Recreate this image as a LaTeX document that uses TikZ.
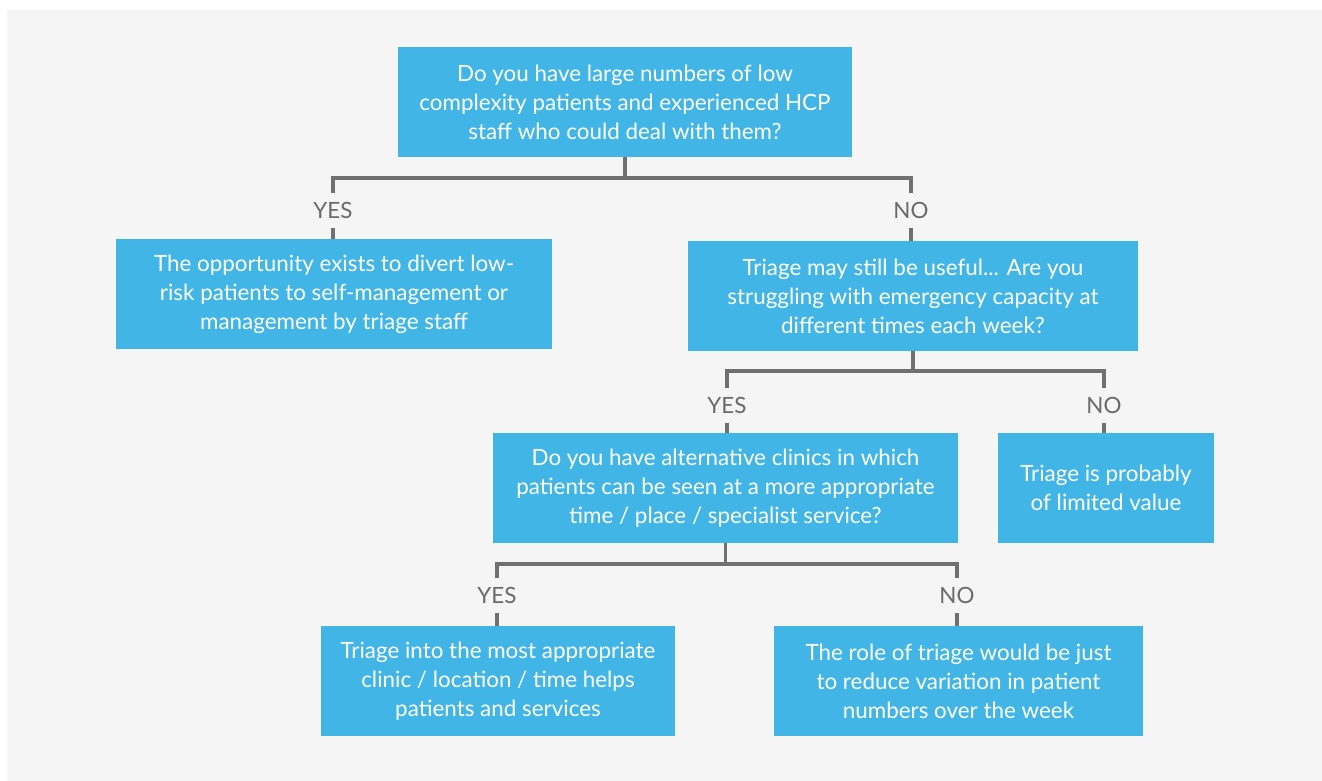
\documentclass[tikz,border=0pt]{standalone}
\usepackage{fontspec}
\setmainfont{Lato}
\definecolor{bgc}{HTML}{F5F5F5}
\definecolor{boxc}{HTML}{41B6E6}
\definecolor{linec}{HTML}{707070}
\definecolor{lblc}{HTML}{6A6A6A}
\tikzset{
  box/.style={fill=boxc, text=white, align=center, inner sep=0pt,
    minimum height=82.5pt, font=\fontsize{16.8}{21.75}\selectfont},
  lbl/.style={text=lblc, inner sep=0pt, minimum height=26.25pt,
    font=\fontsize{16.8}{19}\selectfont},
  conn/.style={draw=linec, line width=2.3pt}
}
\begin{document}
\begin{tikzpicture}[x=0.75pt,y=-0.75pt]
\path[use as bounding box] (0,0) rectangle (1322,781);
\fill[white] (0,0) rectangle (1322,781);
\fill[bgc] (7,10) rectangle (1322,781);

\node[box, minimum width=340.5pt] (b1) at (625,102) {\rule{0pt}{1.5pt}Do you have large numbers of low\\complexity patients and experienced HCP\\staff who could deal with them?};
\node[box, minimum width=327pt] (b2) at (334,294) {\rule{0pt}{1.5pt}The opportunity exists to divert low-\\risk patients to self-management or\\management by triage staff};
\node[box, minimum width=337.5pt] (b3) at (913,296) {\rule{0pt}{1.5pt}Triage may still be useful... Are you\\struggling with emergency capacity at\\different times each week?};
\node[box, minimum width=348.75pt] (b4) at (725.5,488) {\rule{0pt}{1.5pt}Do you have alternative clinics in which\\patients can be seen at a more appropriate\\time / place / specialist service?};
\node[box, minimum width=162pt] (b5) at (1106,488) {\rule{0pt}{1.5pt}Triage is probably\\of limited value};
\node[box, minimum width=265.5pt] (b6) at (498,681) {\rule{0pt}{1.5pt}Triage into the most appropriate\\clinic / location / time helps\\patients and services};
\node[box, minimum width=276.75pt] (b7) at (958.5,681) {\rule{0pt}{1.5pt}The role of triage would be just\\to reduce variation in patient\\numbers over the week};

\node[lbl] (y1) at (333,210.5) {YES};
\node[lbl] (n1) at (911,210.5) {NO};
\node[lbl] (y2) at (727,405.5) {YES};
\node[lbl] (n2) at (1104,405.5) {NO};
\node[lbl] (y3) at (497,595.5) {YES};
\node[lbl] (n3) at (957,595.5) {NO};

\coordinate (j1) at (625,178);
\coordinate (j2) at (913,371);
\coordinate (j3) at (725.5,564);

\draw[conn] (b1.south) -- (j1);
\draw[conn] (y1.north) |- (j1) -| (n1.north);
\draw[conn] (y1.south) -- (y1.south |- b2.north);
\draw[conn] (n1.south) -- (n1.south |- b3.north);

\draw[conn] (b3.south) -- (j2);
\draw[conn] (y2.north) |- (j2) -| (n2.north);
\draw[conn] (y2.south) -- (y2.south |- b4.north);
\draw[conn] (n2.south) -- (n2.south |- b5.north);

\draw[conn] (b4.south) -- (j3);
\draw[conn] (y3.north) |- (j3) -| (n3.north);
\draw[conn] (y3.south) -- (y3.south |- b6.north);
\draw[conn] (n3.south) -- (n3.south |- b7.north);
\end{tikzpicture}
\end{document}
